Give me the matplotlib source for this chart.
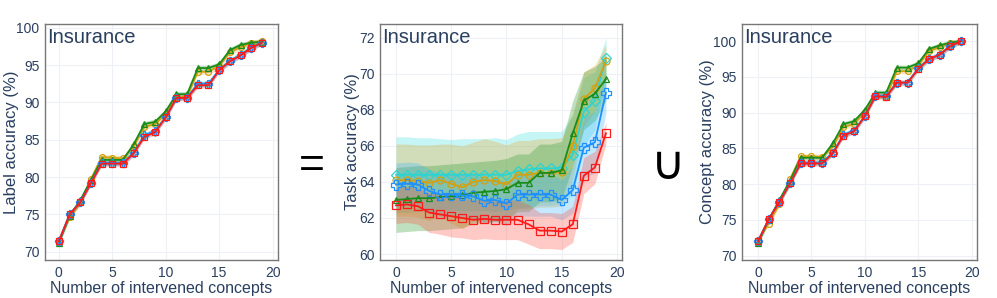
import numpy as np
import matplotlib.pyplot as plt

plt.rcParams['font.family'] = ['Liberation Sans', 'DejaVu Sans']

x = np.arange(20)

# label accuracy (%)
label_cyan = [71.4, 75.0, 76.7, 79.3, 81.9, 81.9, 81.9, 83.3, 85.6, 86.1, 88.1, 90.7, 90.7, 92.5, 92.5, 94.4, 95.6, 96.4, 97.4, 98.1]
label_gold = [71.6, 74.6, 76.6, 79.7, 82.7, 82.6, 82.5, 84.1, 86.7, 87.1, 88.5, 90.7, 90.8, 94.1, 94.1, 94.9, 96.7, 97.4, 98.0, 98.2]
label_green = [71.2, 74.8, 76.9, 79.6, 82.3, 82.3, 82.3, 84.4, 87.1, 87.4, 88.8, 91.1, 91.1, 94.6, 94.6, 95.1, 97.0, 97.7, 98.0, 98.1]
label_blue = [71.4, 75.0, 76.6, 79.2, 81.9, 81.9, 81.9, 83.2, 85.6, 86.2, 88.0, 90.6, 90.6, 92.5, 92.5, 94.3, 95.5, 96.3, 97.3, 98.0]
label_red = [71.4, 75.0, 76.6, 79.2, 81.8, 81.8, 81.8, 83.2, 85.4, 86.0, 88.0, 90.6, 90.6, 92.3, 92.3, 94.3, 95.5, 96.3, 97.3, 98.0]

# task accuracy (%)
task_cyan = [64.4, 64.4, 64.4, 64.4, 64.4, 64.4, 64.4, 64.4, 64.4, 64.4, 64.4, 64.6, 64.7, 64.75, 64.75, 64.8, 65.5, 67.9, 68.5, 70.9]
task_gold = [64.1, 64.1, 64.05, 63.95, 64.1, 63.9, 63.7, 64.0, 64.1, 64.05, 63.85, 64.4, 64.4, 64.5, 64.5, 64.55, 66.0, 68.6, 69.2, 70.7]
task_green = [63.0, 63.05, 63.1, 63.1, 63.15, 63.2, 63.25, 63.4, 63.45, 63.5, 63.6, 63.95, 63.95, 64.5, 64.5, 64.65, 66.7, 68.5, 68.9, 69.7]
task_blue = [63.85, 63.9, 63.85, 63.5, 63.3, 63.3, 63.25, 63.2, 62.95, 63.0, 62.8, 63.3, 63.3, 63.3, 63.3, 63.0, 63.55, 65.9, 66.2, 68.95]
task_red = [62.7, 62.75, 62.65, 62.3, 62.2, 62.1, 62.0, 61.9, 61.95, 61.9, 61.9, 61.9, 61.65, 61.3, 61.3, 61.25, 61.65, 64.35, 64.8, 66.7]

task_cyan_sd = [2.1, 2.1, 2.05, 2.05, 2.0, 1.95, 2.0, 2.0, 2.0, 2.05, 1.95, 2.05, 2.1, 2.05, 2.05, 2.0, 2.2, 1.9, 1.6, 1.1]
task_gold_sd = [2.0, 2.0, 2.0, 2.1, 2.0, 2.2, 2.3, 2.2, 2.3, 2.2, 2.2, 1.9, 1.9, 1.9, 1.9, 1.9, 1.8, 1.5, 1.3, 0.9]
task_green_sd = [1.8, 1.8, 1.8, 1.8, 1.8, 1.8, 1.8, 1.7, 1.7, 1.7, 1.7, 1.6, 1.6, 1.6, 1.6, 1.6, 1.8, 1.6, 1.5, 1.2]
task_blue_sd = [1.2, 1.2, 1.2, 1.2, 1.2, 1.2, 1.2, 1.2, 1.2, 1.2, 1.2, 1.2, 1.2, 1.2, 1.2, 1.1, 1.3, 1.7, 1.7, 1.1]
task_red_sd = [1.0, 1.0, 1.0, 1.1, 1.1, 1.15, 1.1, 1.1, 1.1, 1.1, 1.1, 1.1, 1.1, 1.0, 1.0, 1.0, 1.0, 1.0, 0.9, 0.6]

# concept accuracy (%)
conc_cyan = [72.0, 75.1, 77.5, 80.1, 83.0, 83.0, 83.0, 84.4, 86.9, 87.5, 89.5, 92.4, 92.3, 94.2, 94.2, 96.2, 97.5, 98.1, 99.3, 100.0]
conc_gold = [72.2, 74.5, 77.2, 80.7, 83.9, 83.9, 83.8, 85.2, 88.0, 88.4, 90.1, 92.3, 92.2, 95.8, 95.8, 96.6, 98.6, 99.2, 99.7, 100.0]
conc_green = [71.8, 75.0, 77.8, 80.5, 83.7, 83.7, 83.7, 85.7, 88.4, 88.8, 90.4, 92.8, 92.8, 96.3, 96.3, 96.9, 98.9, 99.4, 99.8, 100.0]
conc_blue = [72.0, 75.1, 77.5, 80.1, 83.0, 83.0, 83.0, 84.4, 86.9, 87.5, 89.5, 92.4, 92.3, 94.2, 94.2, 96.2, 97.5, 98.1, 99.3, 100.0]
conc_red = [72.0, 75.1, 77.5, 80.1, 82.9, 82.9, 82.9, 84.3, 86.8, 87.4, 89.5, 92.3, 92.2, 94.2, 94.2, 96.1, 97.5, 98.1, 99.3, 100.0]

small_sd = 0.35

colors = {'cyan': '#2bd4d4', 'gold': '#d4a010', 'green': '#1a8c1a', 'blue': '#1e90ff', 'red': '#ff1a1a'}
band_colors = {'cyan': '#3fdede', 'gold': '#f0a830', 'green': '#2a9a2a', 'blue': '#3cb4ff', 'red': '#ff5040'}
markers = {'cyan': 'D', 'gold': 'o', 'green': '^', 'blue': 'P', 'red': 's'}
msizes = {'cyan': 5, 'gold': 5, 'green': 5, 'blue': 6.5, 'red': 5.5}

txt = '#2a3f5f'

fig = plt.figure(figsize=(9.97, 2.98), dpi=100)
ax1 = fig.add_axes([0.0451, 0.1275, 0.2337, 0.792])
ax2 = fig.add_axes([0.3811, 0.1275, 0.2427, 0.792])
ax3 = fig.add_axes([0.7442, 0.1275, 0.2357, 0.792])


def draw(ax, series, sds, band_alpha, scale):
    for key in ['cyan', 'gold', 'green', 'blue', 'red']:
        y = np.array(series[key])
        sd = np.array(sds[key])
        ax.fill_between(x, y - sd, y + sd, color=band_colors[key], alpha=band_alpha, lw=0)
    for key in ['cyan', 'gold', 'green', 'blue', 'red']:
        ax.plot(x, series[key], color=colors[key], lw=1.3, marker=markers[key],
                markersize=msizes[key] * scale, markerfacecolor='none', markeredgewidth=0.9)


draw(ax1, {'cyan': label_cyan, 'gold': label_gold, 'green': label_green, 'blue': label_blue, 'red': label_red},
     {k: [small_sd] * 20 for k in colors}, 0.3, 0.85)
draw(ax2, {'cyan': task_cyan, 'gold': task_gold, 'green': task_green, 'blue': task_blue, 'red': task_red},
     {'cyan': task_cyan_sd, 'gold': task_gold_sd, 'green': task_green_sd, 'blue': task_blue_sd, 'red': task_red_sd}, 0.3, 1.0)
draw(ax3, {'cyan': conc_cyan, 'gold': conc_gold, 'green': conc_green, 'blue': conc_blue, 'red': conc_red},
     {k: [small_sd] * 20 for k in colors}, 0.3, 0.85)

ax1.set_xlim(-1.3, 20.5)
ax1.set_ylim(68.9, 100.5)
ax1.set_yticks([70, 75, 80, 85, 90, 95, 100])
ax1.set_ylabel('Label accuracy (%)')
ax1.yaxis.set_label_coords(-0.142, 0.5)

ax2.set_xlim(-1.45, 20.45)
ax2.set_ylim(59.67, 72.76)
ax2.set_yticks([60, 62, 64, 66, 68, 70, 72])
ax2.set_ylabel('Task accuracy (%)')
ax2.yaxis.set_label_coords(-0.112, 0.5)

ax3.set_xlim(-1.5, 20.5)
ax3.set_ylim(69.4, 102.4)
ax3.set_yticks([70, 75, 80, 85, 90, 95, 100])
ax3.set_ylabel('Concept accuracy (%)')
ax3.yaxis.set_label_coords(-0.145, 0.5)

for ax in [ax1, ax2, ax3]:
    ax.set_xticks([0, 5, 10, 15, 20])
    ax.set_xlabel('Number of intervened concepts', fontsize=11.5, color=txt, labelpad=1)
    ax.yaxis.label.set_color(txt)
    ax.yaxis.label.set_fontsize(12)
    ax.yaxis.label.set_va('center')
    ax.tick_params(length=0, labelsize=10, labelcolor=txt, pad=4)
    ax.grid(True, color='#edf1f7', lw=0.8)
    ax.set_axisbelow(True)
    for sp in ax.spines.values():
        sp.set_color('#777777')
        sp.set_linewidth(1.0)
    ax.text(0.01, 0.985, 'Insurance', transform=ax.transAxes, fontsize=14.5, color=txt, va='top', ha='left')

fig.text(0.313, 0.44, '=', fontsize=32, ha='center', va='center', color='black')
fig.text(0.670, 0.44, '\u222a', fontsize=34, ha='center', va='center', color='black')

fig.savefig('out.png', dpi=100)
